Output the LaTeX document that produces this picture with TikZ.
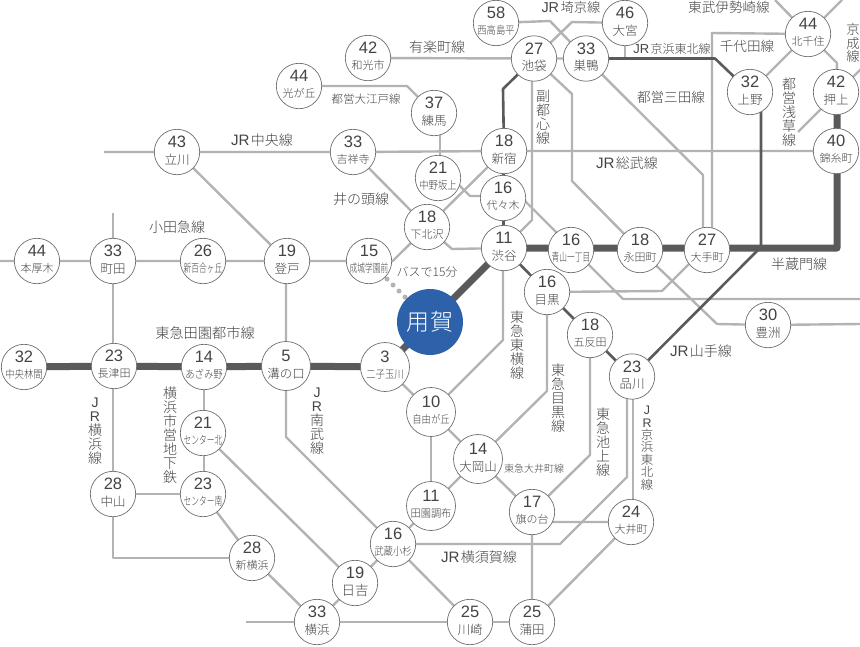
\documentclass[tikz,border=0pt]{standalone}
\usepackage{fontspec}
\usepackage{graphicx}
\setmainfont{Noto Sans CJK JP Light}
\newfontfamily\numfont{Liberation Sans}
\usetikzlibrary{backgrounds}
\definecolor{lineg}{HTML}{B3B3B3}
\definecolor{lined}{HTML}{5A5A5A}
\definecolor{txt}{HTML}{444444}
\definecolor{edgec}{HTML}{6E6E6E}
\definecolor{yogab}{HTML}{2D62AB}
\tikzset{
  stationb/.style={circle,draw=edgec,line width=.7pt,fill=white,minimum size=45.4pt,inner sep=0pt,text=txt},
  stationbig/.style={stationb,minimum size=49pt},
  grayline/.style={draw=lineg,line width=2.4pt,line join=round},
  darkline/.style={draw=lined,line width=2.6pt,line join=round},
  thickline/.style={draw=lined,line width=7pt,line join=round},
  linelab/.style={text=txt,inner sep=0pt,align=center},
}
\newcommand\sq[1]{\scalebox{.67}[1]{#1}}
\newcommand\sqa[1]{\scalebox{.85}[1]{#1}}
% style, id, x, y, number, name size, name
\newcommand\stn[7]{\node[#1] (#2) at (#3,#4) {\smash{\makebox[0pt]{\fontsize{16.5}{16.5}\selectfont\numfont\raisebox{4.2pt}{#5}}\makebox[0pt]{\fontsize{#6}{#6}\selectfont\raisebox{\dimexpr-7.5pt-.38em\relax}{#7}}}};}
% id, x, y, size, text
\newcommand\hlab[5]{\node[linelab,font=\fontsize{#4}{#4}\selectfont] (#1) at (#2,#3) {#5};}
\newcommand\vlab[5]{\node[linelab,font=\fontsize{#4}{#4}\selectfont] (#1) at (#2,#3) {#5};}
\newcommand\JR{{\numfont\addfontfeature{Scale=1.08}JR}\hspace{1.5pt}}
\begin{document}
\begin{tikzpicture}[x=1pt,y=-1pt]
\useasboundingbox (0,0) rectangle (860,646);
% stations
\stn{stationb}{nishitaka}{496}{23}{58}{11}{\sqa{西高島平}}
\stn{stationb}{omiya}{625}{23}{46}{12.5}{大宮}
\stn{stationb}{ikebukuro}{534}{58.5}{27}{12.5}{池袋}
\stn{stationb}{sugamo}{586}{58.5}{33}{12.5}{巣鴨}
\stn{stationb}{kitasenju}{808}{34}{44}{11}{北千住}
\stn{stationb}{ueno}{750}{92}{32}{12.5}{上野}
\stn{stationb}{oshiage}{836}{92}{42}{12.5}{押上}
\stn{stationb}{kinshicho}{836}{151}{40}{11}{錦糸町}
\stn{stationb}{shinjuku}{504}{151}{18}{12.5}{新宿}
\stn{stationb}{yoyogi}{503}{198}{16}{11}{代々木}
\stn{stationb}{shibuya}{504}{248}{11}{12.5}{渋谷}
\stn{stationb}{aoyama}{571}{250}{16}{11.5}{\sq{青山一丁目}}
\stn{stationb}{nagatacho}{640}{250}{18}{11}{永田町}
\stn{stationb}{otemachi}{707}{250}{27}{11}{大手町}
\stn{stationb}{meguro}{547}{292}{16}{12.5}{目黒}
\stn{stationb}{toyosu}{768}{325}{30}{12.5}{豊洲}
\stn{stationb}{gotanda}{590}{335}{18}{11}{五反田}
\stn{stationb}{shinagawa}{632}{376.5}{23}{12.5}{品川}
\stn{stationb}{wako}{368}{58}{42}{11}{和光市}
\stn{stationb}{hikari}{299}{86}{44}{11}{光が丘}
\stn{stationb}{nerima}{434}{113}{37}{12.5}{練馬}
\stn{stationb}{tachikawa}{177}{152}{43}{12.5}{立川}
\stn{stationb}{kichijoji}{353}{152}{33}{11}{吉祥寺}
\stn{stationb}{nakano}{438}{178}{21}{11}{\sqa{中野坂上}}
\stn{stationb}{shimokita}{427}{227}{18}{11}{下北沢}
\stn{stationb}{seijo}{369}{261}{15}{11.5}{\sq{成城学園前}}
\stn{stationb}{honatsugi}{37}{261}{44}{11}{本厚木}
\stn{stationb}{machida}{113}{261}{33}{12.5}{町田}
\stn{stationb}{shinyuri}{203}{261}{26}{11.5}{\sq{新百合ヶ丘}}
\stn{stationb}{noborito}{287}{261}{19}{12.5}{登戸}
\stn{stationb}{nakurin}{24}{367}{32}{11}{\sqa{中央林間}}
\stn{stationb}{nagatsuta}{114}{366}{23}{11}{長津田}
\stn{stationb}{azamino}{204}{367}{14}{11}{\sqa{あざみ野}}
\stn{stationbig}{mizonokuchi}{286}{366}{5}{12.5}{溝の口}
\stn{stationbig}{futako}{385}{367}{3}{11}{\sqa{二子玉川}}
\stn{stationb}{kitaC}{203}{433}{21}{11.5}{\sq{センター北}}
\stn{stationb}{minamiC}{203}{494}{23}{11.5}{\sq{センター南}}
\stn{stationb}{nakayama}{113}{494}{28}{12.5}{中山}
\stn{stationb}{shinyokohama}{252}{558}{28}{11}{新横浜}
\stn{stationb}{hiyoshi}{355}{583}{19}{13.5}{日吉}
\stn{stationb}{yokohama}{317}{622}{33}{12.5}{横浜}
\stn{stationb}{kosugi}{393}{544}{16}{11}{\sqa{武蔵小杉}}
\stn{stationbig}{jiyugaoka}{431}{412}{10}{11}{\sqa{自由が丘}}
\stn{stationbig}{ookayama}{478}{459}{14}{12.5}{大岡山}
\stn{stationbig}{denen}{431}{506}{11}{11}{\scalebox{.93}[1]{田園調布}}
\stn{stationb}{hatanodai}{532}{512}{17}{11}{旗の台}
\stn{stationb}{oimachi}{631}{522}{24}{11}{大井町}
\stn{stationb}{kawasaki}{470}{622}{25}{12.5}{川崎}
\stn{stationb}{kamata}{532}{622}{25}{12.5}{蒲田}
\node[circle,fill=yogab,minimum size=66pt,inner sep=0pt,text=white,font=\fontsize{23}{23}\selectfont] (yoga) at (430,322) {用\hspace{1pt}賀};
% free ends
\coordinate (fChuo) at (104,152);
\coordinate (fOdakyu) at (0,261);
\coordinate (fYokohamaN) at (113,213);
\coordinate (fKeihinW) at (246,622);
\coordinate (fOedoE) at (860,299);
\coordinate (fToyosuE) at (860,324);
\coordinate (fIsesakiW) at (775,0);
\coordinate (fIsesakiE) at (842,0);
\coordinate (fKeiseiE) at (861,69);
\coordinate (fAsakusaS) at (798,132);
\begin{scope}[on background layer]
% gray lines
\draw[grayline] (wako.center) -- (ikebukuro.center) -- (sugamo.center);
\draw[grayline] (hikari.center) -- (407,86) -- (nerima.center);
\draw[grayline] ([xshift=6pt]nerima.center) -- ([xshift=2pt]nakano.center);
\draw[grayline] (fChuo) -- (tachikawa.center) -- (kichijoji.center) -- (shinjuku.center) -- (kinshicho.center);
\draw[grayline] (tachikawa.center) -- (noborito.center);
\draw[grayline] (kichijoji.center) -- (shimokita.center);
\draw[grayline] (shinjuku.center) -- (shimokita.center) -- (392.7,261) -- (seijo.center) -- (noborito.center) -- (shinyuri.center) -- (machida.center) -- (honatsugi.center) -- (fOdakyu);
\draw[grayline] (shimokita.center) -- (452,249) -- (shibuya.center);
\draw[grayline] ([xshift=14pt]nakano.center) -- (470,196) -- (520,196) -- (623,299) -- (fOedoE);
\draw[grayline] ([xshift=-2pt]ikebukuro.center) -- (532,220) -- (shibuya.center);
\draw[grayline] ([xshift=-1pt]shibuya.center) -- (503,340) -- (jiyugaoka.center);
\draw[grayline] (meguro.center) -- (547,391) -- (ookayama.center);
\draw[grayline] (gotanda.center) -- (590,455) -- (hatanodai.center);
\draw[grayline] (futako.center) -- (jiyugaoka.center) -- (ookayama.center) -- (hatanodai.center) -- (kamata.center);
\draw[grayline] (jiyugaoka.center) -- (denen.center);
\draw[grayline] (ookayama.center) -- (denen.center) -- (kosugi.center) -- (hiyoshi.center) -- (yokohama.center);
\draw[grayline] (kosugi.center) -- (560,544) -- (627,477) -- ([xshift=-5pt]shinagawa.center);
\draw[grayline] ([xshift=1pt]shinagawa.center) -- ([xshift=2pt]oimachi.center);
\draw[grayline] ([yshift=-10pt]hatanodai.center) -- (oimachi.center) -- (kamata.center);
\draw[grayline] (kosugi.center) -- (kawasaki.center);
\draw[grayline] (fKeihinW) -- (yokohama.center) -- (kawasaki.center) -- (kamata.center);
\draw[grayline] (fYokohamaN) -- (machida.center) -- ([xshift=-1pt]nagatsuta.center) -- (nakayama.center) -- (113,558) -- (shinyokohama.center);
\draw[grayline] ([xshift=-1pt]noborito.center) -- (mizonokuchi.center) -- (286,437) -- (kosugi.center);
\draw[grayline] (azamino.center) -- ([xshift=1pt]kitaC.center) -- ([xshift=1pt]minamiC.center);
\draw[grayline] (minamiC.center) -- (shinyokohama.center) -- (yokohama.center);
\draw[grayline] (nakayama.center) -- (minamiC.center);
\draw[grayline] (kitaC.center) -- (hiyoshi.center);
\draw[grayline] (meguro.center) -- (662,291) -- ([xshift=-4pt]otemachi.center);
\draw[grayline] (nagatacho.center) -- (717,324) -- (toyosu.center) -- (fToyosuE);
\draw[grayline] (ikebukuro.center) -- (572,94) -- (572,181) -- (nagatacho.center);
\draw[grayline] (sugamo.center) -- (703,175) -- ([xshift=-4pt]otemachi.center);
\draw[grayline] ([xshift=5pt]otemachi.center) -- (712,33) -- (kitasenju.center);
\draw[grayline] (fIsesakiE) -- (kitasenju.center) -- (ueno.center);
\draw[grayline] (fIsesakiW) -- (kitasenju.center) -- (837,63) -- (oshiage.center);
\draw[grayline] (fKeiseiE) -- (fAsakusaS);
\draw[grayline] (omiya.center) -- (572,22) -- (ikebukuro.center);
\draw[grayline] (omiya.center) -- (omiya.center |- sugamo.center);
\draw[grayline] (nishitaka.center) -- (550,21) -- (sugamo.center);
\draw[draw=lineg,line width=5pt,line cap=round,dash pattern=on 0pt off 8.49pt] (seijo.center) -- (yoga.center);
% dark lines
\draw[darkline] (shinjuku.center) -- (503,89) -- (ikebukuro.center);
\draw[darkline] (shinjuku.center) -- (yoyogi.center) -- (shibuya.center) -- (meguro.center) -- (gotanda.center) -- (shinagawa.center) -- (761,247) -- ([xshift=11pt]ueno.center);
\draw[darkline] (sugamo.center) -- (715,58.5) -- (ueno.center);
% thick line
\draw[thickline] (nakurin.center) -- (nagatsuta.center) -- (azamino.center) -- (mizonokuchi.center) -- (futako.center) -- (yoga.center) -- (shibuya.center) -- ([yshift=2pt]aoyama.center) -- ([yshift=2pt]nagatacho.center) -- ([yshift=2pt]otemachi.center) -- (837,248) -- ([xshift=1pt]oshiage.center);
\end{scope}
% line labels
\hlab{lSaikyo}{571}{7}{13.3}{\JR 埼京線}
\hlab{lIsesaki}{729}{7}{13.6}{東武伊勢崎線}
\vlab{lKeisei}{853}{43}{13.3}{京\\成\\線}
\hlab{lChiyoda}{747}{46}{13.6}{千代田線}
\hlab{lKeihinH}{672}{49}{12}{\JR 京浜東北線}
\hlab{lYurakucho}{437}{47}{14}{有楽町線}
\hlab{lOedo}{366}{99}{11.5}{都営大江戸線}
\hlab{lMita}{671}{97}{13.6}{都営三田線}
\vlab{lFukutoshin}{543}{117}{14}{副\\都\\心\\線}
\vlab{lAsakusa}{789}{112}{14}{都\\営\\浅\\草\\線}
\hlab{lSobu}{627}{163}{14}{\JR 総武線}
\hlab{lHanzomon}{799}{264}{14}{半蔵門線}
\hlab{lChuo}{262}{140}{14}{\JR 中央線}
\hlab{lInokashira}{361}{199}{14}{井の頭線}
\hlab{lOdakyu}{177}{227}{14}{小田急線}
\hlab{lBus}{427}{272}{12}{バスで15分}
\hlab{lDenen}{205}{333}{14.2}{東急田園都市線}
\vlab{lYokohama}{95}{431}{14}{\numfont J\\\numfont R\\横\\浜\\線}
\vlab{lSubway}{170}{435}{14}{横\\浜\\市\\営\\地\\下\\鉄}
\vlab{lNambu}{317}{421}{14}{\numfont J\\\numfont R\\南\\武\\線}
\vlab{lToyoko}{517}{345}{14}{東\\急\\東\\横\\線}
\vlab{lMeguro}{558}{398}{14}{東\\急\\目\\黒\\線}
\vlab{lIkegami}{603}{442}{14}{東\\急\\池\\上\\線}
\vlab{lKeihinV}{647}{448}{12.4}{\numfont J\\\numfont R\\京\\浜\\東\\北\\線}
\hlab{lOimachi}{534}{469}{10}{東急大井町線}
\hlab{lYokosuka}{479}{557}{14}{\JR 横須賀線}
\hlab{lYamanote}{701}{351}{14}{\JR 山手線}
\end{tikzpicture}
\end{document}
